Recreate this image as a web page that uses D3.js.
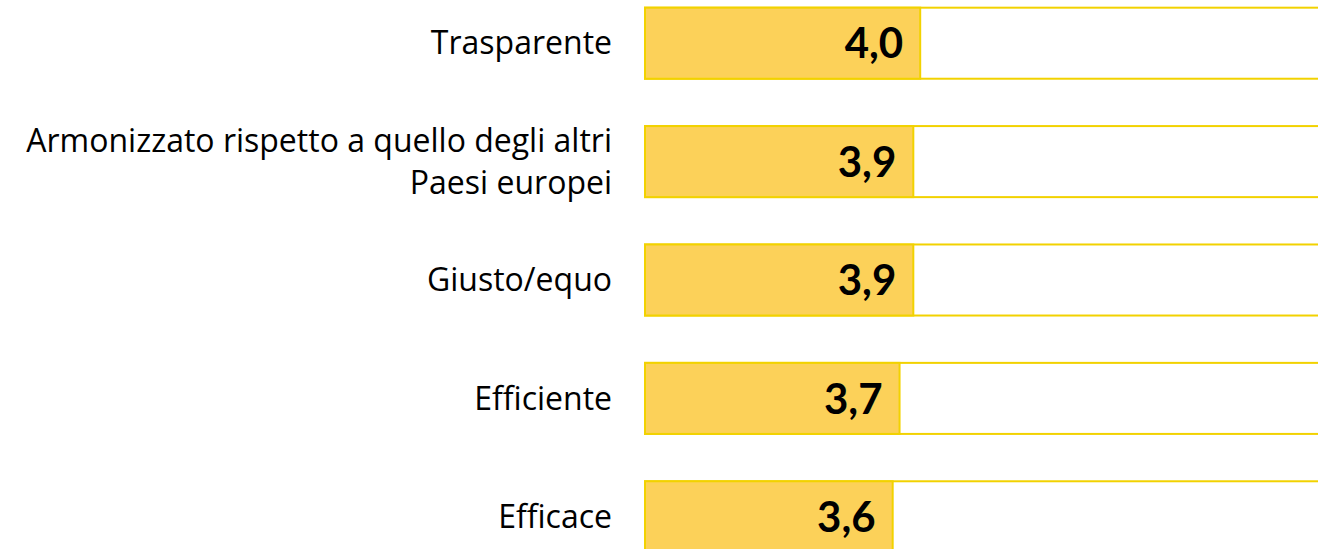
<!DOCTYPE html>
<html>
<head>
<meta charset="utf-8">
<script src="https://cdn.jsdelivr.net/npm/d3@7"></script>
<style>
  body { margin: 0; background: #fff; }
  svg { display: block; }
</style>
</head>
<body>
<svg id="chart"></svg>
<script>
const width = 1318;
const height = 549;

// dati
const categories = [
    "Trasparente",
    "Armonizzato rispetto a quello degli altri|Paesi europei",
    "Giusto/equo",
    "Efficiente",
    "Efficace"
];
const values = [4.0, 3.9, 3.9, 3.7, 3.6];
const valueLabels = ["4,0", "3,9", "3,9", "3,7", "3,6"];
const maxValue = 10;

const svg = d3.select("#chart")
    .attr("width", width)
    .attr("height", height);

const x = d3.scaleLinear()
    .domain([0, maxValue])
    .range([645, 1333]);

const y = d3.scaleBand()
    .domain(categories)
    .range([-16, 576])
    .paddingInner(0.4)
    .paddingOuter(0.2);

const rows = svg.selectAll("g.row")
    .data(categories)
    .join("g")
    .attr("class", "row");

// barra di sfondo
rows.append("rect")
    .attr("x", x(0))
    .attr("y", d => y(d))
    .attr("width", x(maxValue) - x(0))
    .attr("height", y.bandwidth())
    .attr("fill", "#fff")
    .attr("stroke", "#F2D200")
    .attr("stroke-width", 2);

// barra valore
rows.append("rect")
    .attr("x", x(0))
    .attr("y", d => y(d))
    .attr("width", (d, i) => x(values[i]) - x(0))
    .attr("height", y.bandwidth())
    .attr("fill", "#FCD159")
    .attr("stroke", "#F2D200")
    .attr("stroke-width", 2);

// valori
rows.append("text")
    .attr("x", (d, i) => x(values[i]) - 17)
    .attr("y", d => y(d) + y.bandwidth() / 2)
    .attr("dy", "0.36em")
    .attr("text-anchor", "end")
    .attr("font-family", "Lato, 'Open Sans', sans-serif")
    .attr("font-weight", "bold")
    .attr("font-size", 42)
    .attr("fill", "#000")
    .text((d, i) => valueLabels[i]);

// etichette categorie (una riga = un elemento text)
rows.each(function (d) {
    const lines = d.split("|");
    const cy = y(d) + y.bandwidth() / 2;
    const lh = 42;
    d3.select(this).selectAll("text.label")
        .data(lines)
        .join("text")
        .attr("class", "label")
        .attr("text-anchor", "end")
        .attr("font-family", "'Open Sans', sans-serif")
        .attr("font-size", 32)
        .attr("fill", "#000")
        .attr("x", 612)
        .attr("y", (l, i) => cy + (i - (lines.length - 1) / 2) * lh)
        .attr("dy", "0.35em")
        .text(l => l);
});
</script>
</body>
</html>
